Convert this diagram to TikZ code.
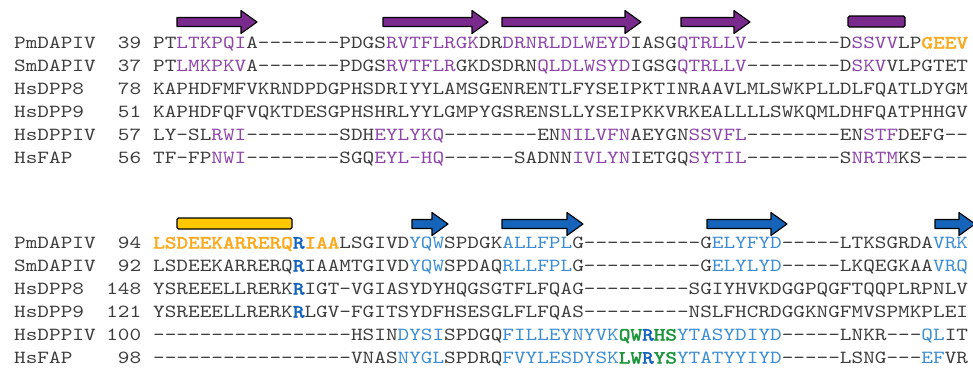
\documentclass[tikz,border=0pt]{standalone}
\usepackage{graphicx}
\usepackage{fontspec}
\setmonofont{lmmono10-regular.otf}[BoldFont=lmmono10-regular.otf,BoldFeatures={FakeBold=2.2}]
\definecolor{txt}{RGB}{60,60,60}
\definecolor{purp}{RGB}{140,68,170}
\definecolor{purpfill}{RGB}{122,42,140}
\definecolor{orng}{RGB}{250,170,30}
\definecolor{ltblue}{RGB}{58,140,212}
\definecolor{dkblue}{RGB}{20,100,190}
\definecolor{arrblue}{RGB}{22,100,185}
\definecolor{grn}{RGB}{28,150,60}
\definecolor{yel}{RGB}{255,200,0}
\newcommand\seqfont{\fontsize{18.5}{18.5}\selectfont\ttfamily}
\newcommand\sq[1]{\scalebox{1.1985}[1]{\seqfont #1}}
\newcommand\cpu[1]{\textcolor{purp}{#1}}
\newcommand\cor[1]{\textcolor{orng}{\bfseries #1}}
\newcommand\clb[1]{\textcolor{ltblue}{#1}}
\newcommand\cdb[1]{\textcolor{dkblue}{\bfseries #1}}
\newcommand\cgr[1]{\textcolor{grn}{\bfseries #1}}
\tikzset{
  nm/.style={inner sep=0pt,anchor=base west,text=txt},
  num/.style={inner sep=0pt,anchor=base east,text=txt},
  sqn/.style={inner sep=0pt,anchor=base west,text=txt},
  arr/.style={draw=black,line width=1.1pt,line join=round},
  bar/.style={draw=black,line width=1.1pt,rounded corners=1.5pt}
}
\newcommand\fwd[4]{\draw[arr,fill=#1] (#2,{#4-4.5}) -- ({#3-16},{#4-4.5}) -- ({#3-16},{#4-11.5}) -- (#3,#4) -- ({#3-16},{#4+11.5}) -- ({#3-16},{#4+4.5}) -- (#2,{#4+4.5}) -- cycle;}
\begin{document}
\begin{tikzpicture}[x=1pt,y=-1pt]
\useasboundingbox (0,0) rectangle (973,378);
% ---- block 1 secondary structure
\fwd{purpfill}{177}{257}{22}
\fwd{purpfill}{383}{488}{22}
\fwd{purpfill}{502}{641}{22}
\fwd{purpfill}{681}{750}{22}
\draw[bar,fill=purpfill] (848,16) rectangle (905,27);
% ---- block 1 rows
\node[nm] (n1) at (14,48.5) {\sq{PmDAPIV}};
\node[nm] (n2) at (14,71.5) {\sq{SmDAPIV}};
\node[nm] (n3) at (14,94.5) {\sq{HsDPP8}};
\node[nm] (n4) at (14,117.5) {\sq{HsDPP9}};
\node[nm] (n5) at (14,140.5) {\sq{HsDPPIV}};
\node[nm] (n6) at (14,163.5) {\sq{HsFAP}};
\node[num] (k1) at (141.4,48.5) {\sq{39}};
\node[num] (k2) at (141.4,71.5) {\sq{37}};
\node[num] (k3) at (141.4,94.5) {\sq{78}};
\node[num] (k4) at (141.4,117.5) {\sq{51}};
\node[num] (k5) at (141.4,140.5) {\sq{57}};
\node[num] (k6) at (141.4,163.5) {\sq{56}};
\node[sqn] (s1) at (153,48.5) {\sq{PT\cpu{LTKPQI}A-{}-{}-{}-{}-{}-{}-PDGS\cpu{RVTFLRGK}DR\cpu{DRNRLDLWEYD}IASG\cpu{QTRLLV}-{}-{}-{}-{}-{}-{}-{}-D\cpu{SSVV}LP\cor{GEEV}}};
\node[sqn] (s2) at (153,71.5) {\sq{PT\cpu{LMKPKV}A-{}-{}-{}-{}-{}-{}-PDGS\cpu{RVTFLR}GKDSDRN\cpu{QLDLWSYD}IGSG\cpu{QTRLLV}-{}-{}-{}-{}-{}-{}-{}-D\cpu{SKV}VLPGTET}};
\node[sqn] (s3) at (153,94.5) {\sq{KAPHDFMFVKRNDPDGPHSDRIYYLAMSGENRENTLFYSEIPKTINRAAVLMLSWKPLLDLFQATLDYGM}};
\node[sqn] (s4) at (153,117.5) {\sq{KAPHDFQFVQKTDESGPHSHRLYYLGMPYGSRENSLLYSEIPKKVRKEALLLLSWKQMLDHFQATPHHGV}};
\node[sqn] (s5) at (153,140.5) {\sq{LY-SL\cpu{RWI}-{}-{}-{}-{}-{}-{}-{}-SDH\cpu{EYLYKQ}-{}-{}-{}-{}-{}-{}-{}-EN\cpu{NILVFN}AEYGN\cpu{SSVFL}-{}-{}-{}-{}-{}-{}-{}-EN\cpu{STF}DEFG-{}-}};
\node[sqn] (s6) at (153,163.5) {\sq{TF-FP\cpu{NWI}-{}-{}-{}-{}-{}-{}-{}-SGQ\cpu{EYL-HQ}-{}-{}-{}-{}-{}-SADNN\cpu{IVLYN}IETGQ\cpu{SYTIL}-{}-{}-{}-{}-{}-{}-{}-S\cpu{NRTM}KS-{}-{}-{}-}};
% ---- block 2 secondary structure
\draw[bar,fill=yel] (177,218) rectangle (292,229);
\fwd{arrblue}{412}{448}{224}
\fwd{arrblue}{502}{583}{224}
\fwd{arrblue}{707}{787}{224}
\fwd{arrblue}{935}{975}{224}
% ---- block 2 rows
\node[nm] (m1) at (14,248.5) {\sq{PmDAPIV}};
\node[nm] (m2) at (14,271.5) {\sq{SmDAPIV}};
\node[nm] (m3) at (14,294.5) {\sq{HsDPP8}};
\node[nm] (m4) at (14,317.5) {\sq{HsDPP9}};
\node[nm] (m5) at (14,340.5) {\sq{HsDPPIV}};
\node[nm] (m6) at (14,363.5) {\sq{HsFAP}};
\node[num] (j1) at (141.4,248.5) {\sq{94}};
\node[num] (j2) at (141.4,271.5) {\sq{92}};
\node[num] (j3) at (141.4,294.5) {\sq{148}};
\node[num] (j4) at (141.4,317.5) {\sq{121}};
\node[num] (j5) at (141.4,340.5) {\sq{100}};
\node[num] (j6) at (141.4,363.5) {\sq{98}};
\node[sqn] (t1) at (153,248.5) {\sq{\cor{LSDEEKARRERQ}\cdb{R}\cor{IAA}LSGIVD\clb{YQW}SPDGK\clb{ALLFPL}G-{}-{}-{}-{}-{}-{}-{}-{}-{}-G\clb{ELYFYD}-{}-{}-{}-{}-LTKSGRDA\clb{VRK}}};
\node[sqn] (t2) at (153,271.5) {\sq{LSDEEKARRERQ\cdb{R}IAAMTGIVD\clb{YQW}SPDAQ\clb{RLLFPL}G-{}-{}-{}-{}-{}-{}-{}-{}-{}-G\clb{ELYLYD}-{}-{}-{}-{}-LKQEGKAA\clb{VRQ}}};
\node[sqn] (t3) at (153,294.5) {\sq{YSREEELLRERK\cdb{R}IGT-VGIASYDYHQGSGTFLFQAG-{}-{}-{}-{}-{}-{}-{}-{}-SGIYHVKDGGPQGFTQQPLRPNLV}};
\node[sqn] (t4) at (153,317.5) {\sq{YSREEELLRERK\cdb{R}LGV-FGITSYDFHSESGLFLFQAS-{}-{}-{}-{}-{}-{}-{}-{}-NSLFHCRDGGKNGFMVSPMKPLEI}};
\node[sqn] (t5) at (153,340.5) {\sq{-{}-{}-{}-{}-{}-{}-{}-{}-{}-{}-{}-{}-{}-{}-{}-{}-HSIN\clb{DYSI}SPDGQ\clb{FILLEYNYVK}\cgr{QW}\cdb{R}\cgr{HS}\clb{YTASYDIYD}-{}-{}-{}-{}-LNKR-{}-{}-\clb{QL}IT}};
\node[sqn] (t6) at (153,363.5) {\sq{-{}-{}-{}-{}-{}-{}-{}-{}-{}-{}-{}-{}-{}-{}-{}-{}-VNAS\clb{NYGL}SPDRQ\clb{FVYLESDYSK}\cgr{LW}\cdb{R}\cgr{YS}\clb{YTATYYIYD}-{}-{}-{}-{}-LSNG-{}-{}-\clb{EF}VR}};
\end{tikzpicture}
\end{document}
